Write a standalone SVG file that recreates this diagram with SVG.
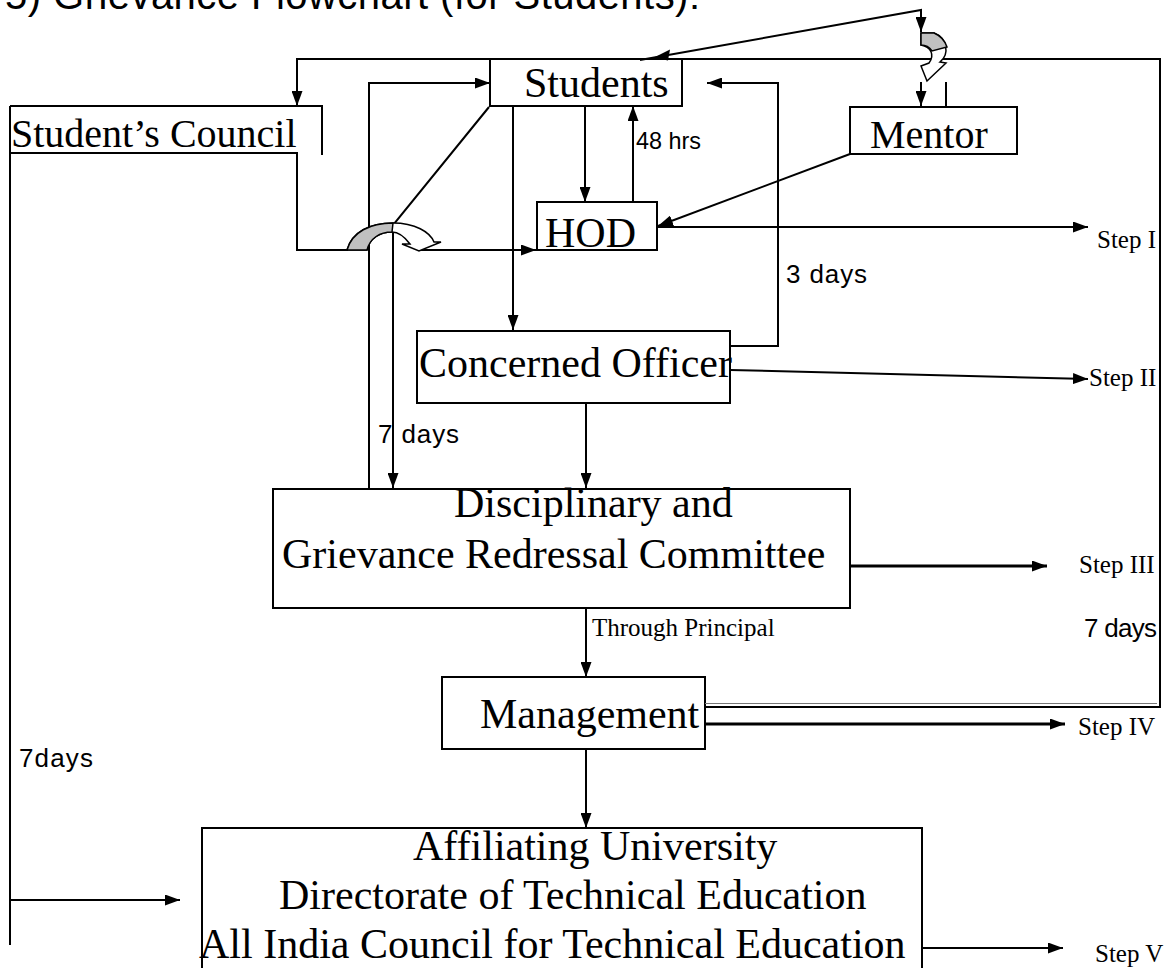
<svg xmlns="http://www.w3.org/2000/svg" width="1166" height="968" viewBox="0 0 1166 968">
<style>
.box{fill:#fff;stroke:#000;stroke-width:2}
.ln{fill:none;stroke:#000;stroke-width:2}
.thk{fill:none;stroke:#000;stroke-width:3}
.big{font-family:"Liberation Serif",serif;font-size:42px;fill:#000}
.mid{font-family:"Liberation Serif",serif;font-size:40px;fill:#000}
.step{font-family:"Liberation Serif",serif;font-size:25px;fill:#000}
.lbl{font-family:"Liberation Sans",sans-serif;font-size:26px;fill:#000}
.jump{stroke:#000;stroke-width:1.5}
</style>
<defs>
<marker id="ar" markerUnits="userSpaceOnUse" viewBox="0 0 15 11" refX="15" refY="5.5" markerWidth="15" markerHeight="11" orient="auto">
<path d="M0,0 L15,5.5 L0,11 z" fill="#000"/>
</marker>
</defs>
<rect width="1166" height="968" fill="#fff"/>
<text id="title" x="5" y="9" font-family="Liberation Sans,sans-serif" font-size="40" textLength="695" lengthAdjust="spacing">5) Grievance Flowchart (for Students):</text>

<g id="students"><rect class="box" x="490" y="59" width="192" height="47"/><text class="big" x="524" y="97">Students</text></g>
<g id="council"><path class="ln" d="M10,106 L322,106 L322,155"/><text class="mid" x="11" y="147">Student’s Council</text></g>
<g id="mentor"><rect class="box" x="850" y="107" width="167" height="47"/><text class="mid" x="870" y="148">Mentor</text></g>
<g id="hod"><rect class="box" x="537" y="202" width="120" height="48"/><text class="big" x="545" y="247">HOD</text></g>
<g id="officer"><rect class="box" x="417" y="331" width="313" height="72"/><text class="big" x="419" y="377">Concerned Officer</text></g>
<g id="committee"><rect class="box" x="273" y="489" width="577" height="119"/><text class="big" x="454" y="517">Disciplinary and</text><text class="big" x="282" y="568">Grievance Redressal Committee</text></g>
<g id="management"><rect class="box" x="442" y="677" width="263" height="72"/><text class="big" x="480" y="728">Management</text></g>
<g id="university"><rect class="box" x="202" y="828" width="720" height="160"/><text class="big" x="413" y="860">Affiliating University</text><text class="big" x="279" y="909">Directorate of Technical Education</text><text class="big" x="199" y="958">All India Council for Technical Education</text></g>

<g id="connectors">
<path class="ln" d="M490,59 L297,59 L297,106" marker-end="url(#ar)"/>
<path class="ln" d="M369,489 L369,83 L490,83" marker-end="url(#ar)"/>
<path class="ln" d="M513,106 L513,330" marker-end="url(#ar)"/>
<path class="ln" d="M585,106 L585,202" marker-end="url(#ar)"/>
<path class="ln" d="M633,202 L633,106" marker-end="url(#ar)"/>
<path class="ln" d="M730,346 L778,346 L778,83 L707,83" marker-end="url(#ar)"/>
<path class="ln" d="M850,154 L658,226" marker-end="url(#ar)"/>
<path class="ln" d="M657,227 L1088,227" marker-end="url(#ar)"/>
<path class="ln" d="M730,370 L1088,379" marker-end="url(#ar)"/>
<path class="ln" d="M586,403 L586,488" marker-end="url(#ar)"/>
<path class="ln" d="M489,107 L393,225 L393,488" marker-end="url(#ar)"/>
<path class="ln" d="M10,153 L297,153 L297,250 L348,250"/>
<path class="ln" d="M418,250 L536,250" marker-end="url(#ar)"/>
<path class="thk" d="M850,566 L1047,566" marker-end="url(#ar)"/>
<path class="ln" d="M586,608 L586,677" marker-end="url(#ar)"/>
<path class="thk" d="M705,724 L1065,724" marker-end="url(#ar)"/>
<path class="ln" d="M705,707 L1160,707 L1160,59 L682,59"/>
<path fill="none" stroke="#777" stroke-width="1.2" d="M705,703.5 L1157,703.5"/>
<path class="ln" d="M586,749 L586,828" marker-end="url(#ar)"/>
<path class="ln" d="M922,948 L1063,948" marker-end="url(#ar)"/>
<path class="ln" d="M10,106 L10,945"/>
<path class="ln" d="M10,900 L180,900" marker-end="url(#ar)"/>
<path class="ln" d="M640,60 L921,10 L921,32" marker-end="url(#ar)"/>
<path d="M654,57.6 L670,49.5 L668,60.5 z" fill="#000"/>
<path class="ln" d="M921,82 L921,106" marker-end="url(#ar)"/>
<path class="ln" d="M946,82 L946,107"/>
<path class="jump" fill="#fff" d="M921,33 L934,33 C947,38 950,54 940,62 L946,63 L927,81 L921,66 L929,63 C935,55 931,47 921,45 Z"/>
<path class="jump" fill="#c0c0c0" d="M921,33 L934,33 C941,36 945,41 947,47 L932,51 C930,48 926,45 921,45 Z"/>
<path class="jump" fill="#fff" d="M347,250 C352,232 370,223 393,223 C415,223 430,232 434,242 L441,242 L419,251 L402,244 L410,244 C404,236 398,232 392,232 C380,232 370,238 367,250 Z"/>
<path class="jump" fill="#c0c0c0" d="M347,250 C352,232 370,223 393,223 L392,232 C380,232 370,238 367,250 Z"/>
</g>

<g id="labels">
<text x="636" y="149" font-family="Liberation Sans,sans-serif" font-size="24" textLength="65" lengthAdjust="spacingAndGlyphs">48 hrs</text>
<text class="lbl" x="786" y="283" textLength="81">3 days</text>
<text class="lbl" x="378" y="443" textLength="81">7 days</text>
<text class="lbl" x="1084" y="637" textLength="73">7 days</text>
<text class="lbl" x="19" y="767" textLength="74">7days</text>
<text class="step" x="592" y="636">Through Principal</text>
<text class="step" x="1097" y="248">Step I</text>
<text class="step" x="1089" y="386">Step II</text>
<text class="step" x="1079" y="573">Step III</text>
<text class="step" x="1078" y="735">Step IV</text>
<text class="step" x="1095" y="962">Step V</text>
</g>
</svg>
